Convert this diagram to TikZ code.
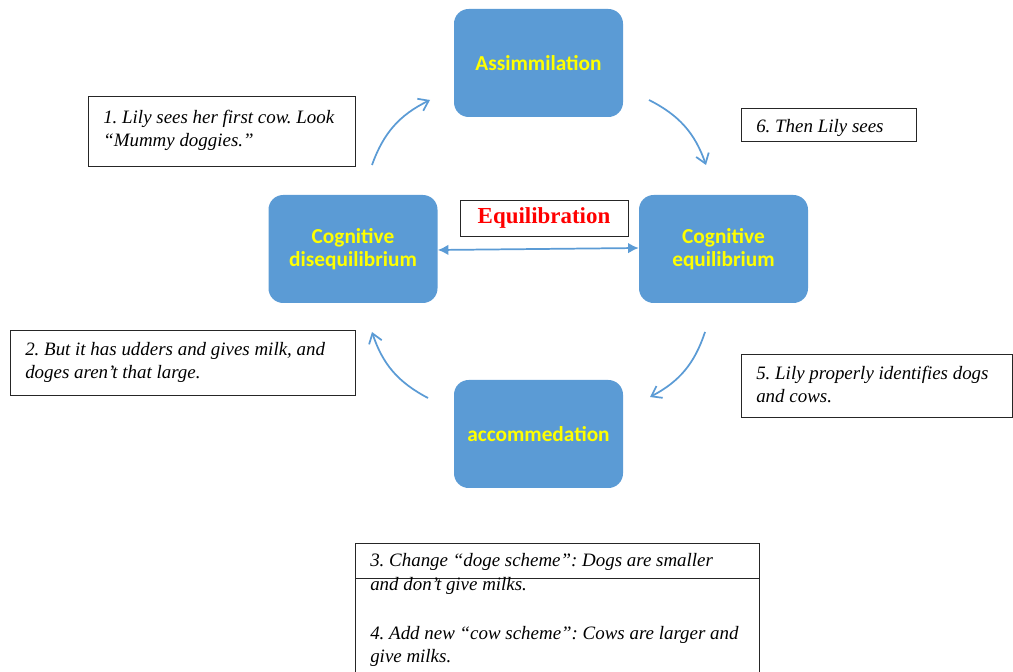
\documentclass[tikz,border=0pt]{standalone}
\usepackage{fontspec}
\setmainfont{Liberation Serif}
\newfontfamily\calib{Carlito}
\usetikzlibrary{arrows.meta}
\definecolor{boxblue}{HTML}{5B9BD5}
\definecolor{txtyellow}{HTML}{FFFF00}
\tikzset{
  stage/.style={fill=boxblue, draw=none, rounded corners=11pt, minimum width=169*0.75pt, minimum height=108*0.75pt,
    text=txtyellow, font=\calib\bfseries\fontsize{16}{17.3}\selectfont, align=center, inner sep=0pt},
  note/.style={draw=black!85, line width=0.7pt, inner sep=0pt},
  notetext/.style={font=\itshape\fontsize{14.2}{17.6}\selectfont, align=left, inner sep=0pt, anchor=base west},
  cyc/.style={draw=boxblue, line width=1.3pt, -{Straight Barb[length=7pt,width=10pt,line width=1.3pt]}, bend left=22},
}
\begin{document}
\frenchspacing
\begin{tikzpicture}[x=0.75pt,y=0.75pt]
\useasboundingbox (0,0) rectangle (1013,671);
% stages
\node[stage] (assim) at (538.5,608) {Assimmilation};
\node[stage] (diseq) at (353,422) {Cognitive\\disequilibrium};
\node[stage] (equil) at (723.5,422) {Cognitive\\equilibrium};
\node[stage] (accom) at (538.5,237) {accommedation};
% equilibration label
\node[note, minimum width=168*0.75pt, minimum height=36*0.75pt, text=red, font=\bfseries\fontsize{17.2}{19}\selectfont] (eqlab) at (544,453) {Equilibration};
\draw[boxblue, line width=1.3pt, {Latex[length=8pt,width=8pt]}-{Latex[length=8pt,width=8pt]}] (diseq.east |- 0,421) -- (equil.west |- 0,423);
% notes
\node[note, minimum width=267*0.75pt, minimum height=70*0.75pt] (n1) at (221.5,540) {};
\node[notetext] (t1) at (103,524.5) {1. Lily sees her first cow. Look\\``Mummy doggies.''};
\node[note, minimum width=345*0.75pt, minimum height=65*0.75pt] (n2) at (182.5,308.5) {};
\node[notetext] (t2) at (25,292.5) {2. But it has udders and gives milk, and\\doges aren't that large.};
\node[note, minimum width=175*0.75pt, minimum height=33*0.75pt] (n6) at (828.5,546.5) {};
\node[notetext] (t6) at (756,538) {6. Then Lily sees};
\node[note, minimum width=271*0.75pt, minimum height=63*0.75pt] (n5) at (876.5,285.5) {};
\node[notetext] (t5) at (756,268.5) {5. Lily properly identifies dogs\\and cows.};
\node[note, minimum width=404*0.75pt, minimum height=35*0.75pt] (n3) at (557,110.5) {};
\node[note, minimum width=404*0.75pt, minimum height=100*0.75pt] (n4) at (557,43) {};
\node[notetext] (t3) at (370,81) {3. Change ``doge scheme'': Dogs are smaller\\and don't give milks.};
\node[notetext] (t4) at (370,8.5) {4. Add new ``cow scheme'': Cows are larger and\\give milks.};
% cycle arrows
\coordinate (a1s) at (372,506); \coordinate (a1e) at (430,571);
\coordinate (a2s) at (649,571); \coordinate (a2e) at (706,506);
\coordinate (a3s) at (705,339); \coordinate (a3e) at (650,274);
\coordinate (a4s) at (428,273); \coordinate (a4e) at (372,339);
\draw[cyc] (a1s) to (a1e);
\draw[cyc] (a2s) to (a2e);
\draw[cyc] (a3s) to (a3e);
\draw[cyc] (a4s) to (a4e);
\end{tikzpicture}
\end{document}
